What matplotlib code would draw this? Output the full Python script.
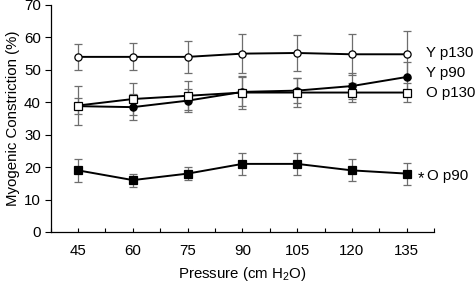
import matplotlib
matplotlib.use("Agg")
import matplotlib.pyplot as plt
import numpy as np

plt.rcParams['font.family'] = ['Liberation Sans', 'DejaVu Sans']
plt.rcParams['mathtext.fontset'] = 'custom'
plt.rcParams['mathtext.rm'] = 'Liberation Sans'
plt.rcParams['mathtext.it'] = 'Liberation Sans:italic'

pressures = ['45', '60', '75', '90', '105', '120', '135']

y_p130 = [54, 54, 54, 55, 55.2, 54.8, 54.8]
y_p130_err = [4, 4.2, 5, 6, 5.6, 6.3, 7.2]

y_p90 = [38.8, 38.5, 40.5, 43.2, 43.6, 45, 47.8]
y_p90_err = [2.5, 4, 3.5, 4.5, 3.8, 4, 4.5]

o_p130 = [39, 41, 42, 43, 43, 43, 43]
o_p130_err = [6, 5, 4.5, 5, 4.5, 3, 3]

o_p90 = [19, 16, 18, 21, 21, 19, 18]
o_p90_err = [3.6, 2, 2, 3.4, 3.4, 3.4, 3.4]

series = [
    (y_p130, y_p130_err, 'o', 'white', 'Y p130'),
    (y_p90, y_p90_err, 'o', 'black', 'Y p90'),
    (o_p130, o_p130_err, 's', 'white', 'O p130'),
    (o_p90, o_p90_err, 's', 'black', 'O p90'),
]
label_y = [55.3, 49.1, 43.0, 17.4]

FS = 10.8

fig = plt.figure(figsize=(4.77, 2.85), dpi=100)
ax = fig.add_axes([0.1063, 0.186, 0.8037, 0.7965])

x = np.arange(len(pressures))
for vals, err, m, fc, lab in series:
    ax.errorbar(x, vals, yerr=err, fmt='none', ecolor='#6e6e6e',
                elinewidth=0.9, capsize=2.6, capthick=0.9, zorder=2)
for vals, err, m, fc, lab in series:
    ax.plot(x, vals, color='black', lw=1.4, marker=m, markersize=5.2,
            markerfacecolor=fc, markeredgecolor='black', markeredgewidth=0.9,
            zorder=3)

for (vals, err, m, fc, lab), ly in zip(series, label_y):
    if lab == 'O p90':
        ax.text(6.2, ly - 0.8, '*', fontsize=12, ha='left', va='center', clip_on=False)
        ax.text(6.37, ly, lab, fontsize=FS, ha='left', va='center', clip_on=False)
    else:
        ax.text(6.35, ly, lab, fontsize=FS, ha='left', va='center', clip_on=False)

ax.set_xlim(-0.5, 6.5)
ax.set_ylim(0, 70)
ax.set_yticks(np.arange(0, 71, 10))
ax.set_xticks(x)
ax.set_xticklabels(pressures)
ax.set_xticks(np.arange(-0.5, 6.6, 0.5), minor=True)
ax.tick_params(axis='x', which='both', direction='in', length=3, width=0.8, pad=9, labelsize=FS)
ax.tick_params(axis='y', direction='out', length=4, width=0.8, labelsize=FS, pad=3)
for s in ['top', 'right']:
    ax.spines[s].set_visible(False)
for s in ['left', 'bottom']:
    ax.spines[s].set_linewidth(0.9)

ax.set_ylabel('Myogenic Constriction (%)', fontsize=FS, labelpad=3)
ax.set_xlabel('Pressure (cm H$_2$O)', fontsize=FS, labelpad=5)

fig.savefig('out.png', dpi=100)
